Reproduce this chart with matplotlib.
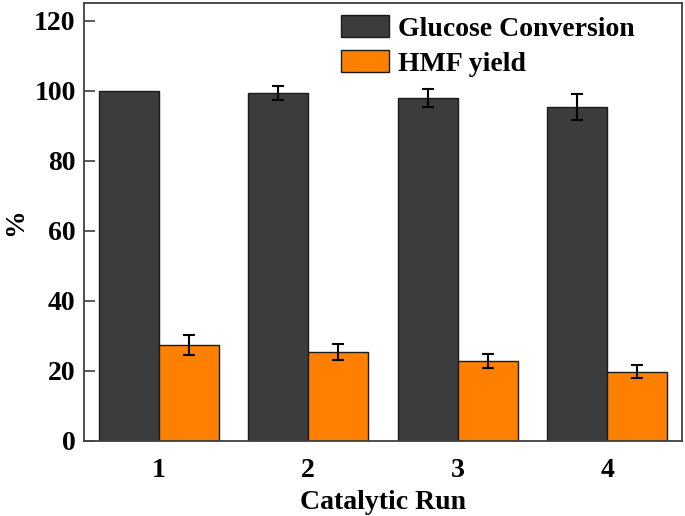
import matplotlib
matplotlib.use("Agg")
import matplotlib.pyplot as plt
import numpy as np

runs = ["1", "2", "3", "4"]
glucose_conv = [99.8, 99.3, 97.8, 95.3]
glucose_err = [0.0, 2.0, 2.6, 3.6]
hmf_yield = [27.4, 25.3, 22.8, 19.8]
hmf_err = [2.9, 2.3, 2.1, 1.8]

plt.rcParams['font.family'] = ['Liberation Serif', 'DejaVu Serif']
plt.rcParams['font.weight'] = 'bold'

fig = plt.figure(figsize=(6.85, 5.16), dpi=100)
ax = fig.add_axes([84/685, 1-441/516, (682-84)/685, (441-3)/516])

x = np.arange(1, len(runs) + 1)
w = 0.4
ax.bar(x - w/2, glucose_conv, w, color='#3c3c3c', edgecolor='#1a1a1a',
       linewidth=1.0, label='Glucose Conversion')
ax.bar(x + w/2, hmf_yield, w, color='#ff8000', edgecolor='#1a1a1a',
       linewidth=1.0, label='HMF yield')

ekw = dict(fmt='none', ecolor='black', elinewidth=1.5, capsize=4, capthick=1.5)
g_err = np.array(glucose_err)
m = g_err > 0
ax.errorbar((x - w/2)[m], np.array(glucose_conv)[m], yerr=g_err[m], **ekw)
ax.errorbar(x + w/2, hmf_yield, yerr=hmf_err, **ekw)

ax.set_xlim(0.5, 4.5)
ax.set_ylim(0, 125)
ax.set_yticks([0, 20, 40, 60, 80, 100, 120])
ax.set_xticks(x)
ax.set_xticklabels(runs)
ax.tick_params(axis='both', direction='in', labelsize=20, length=8, width=1.2, colors='#404040',
               labelcolor='black')
ax.tick_params(axis='x', length=0, pad=12)
ax.tick_params(axis='y', pad=6)
for lab in ax.get_xticklabels() + ax.get_yticklabels():
    lab.set_fontweight('bold')
for s in ax.spines.values():
    s.set_color('#404040')
    s.set_linewidth(1.3)

ax.set_xlabel('Catalytic Run', fontsize=20, fontweight='bold', labelpad=5)
ax.set_ylabel('%', fontsize=20, fontweight='bold', labelpad=4)

leg = ax.legend(loc='upper right', bbox_to_anchor=(0.962, 1.03), frameon=False,
                prop=dict(family='Liberation Serif', weight='bold', size=20),
                handlelength=1.75, handleheight=0.85, handletextpad=0.3, labelspacing=0.3)

fig.savefig('out.png', dpi=100)
